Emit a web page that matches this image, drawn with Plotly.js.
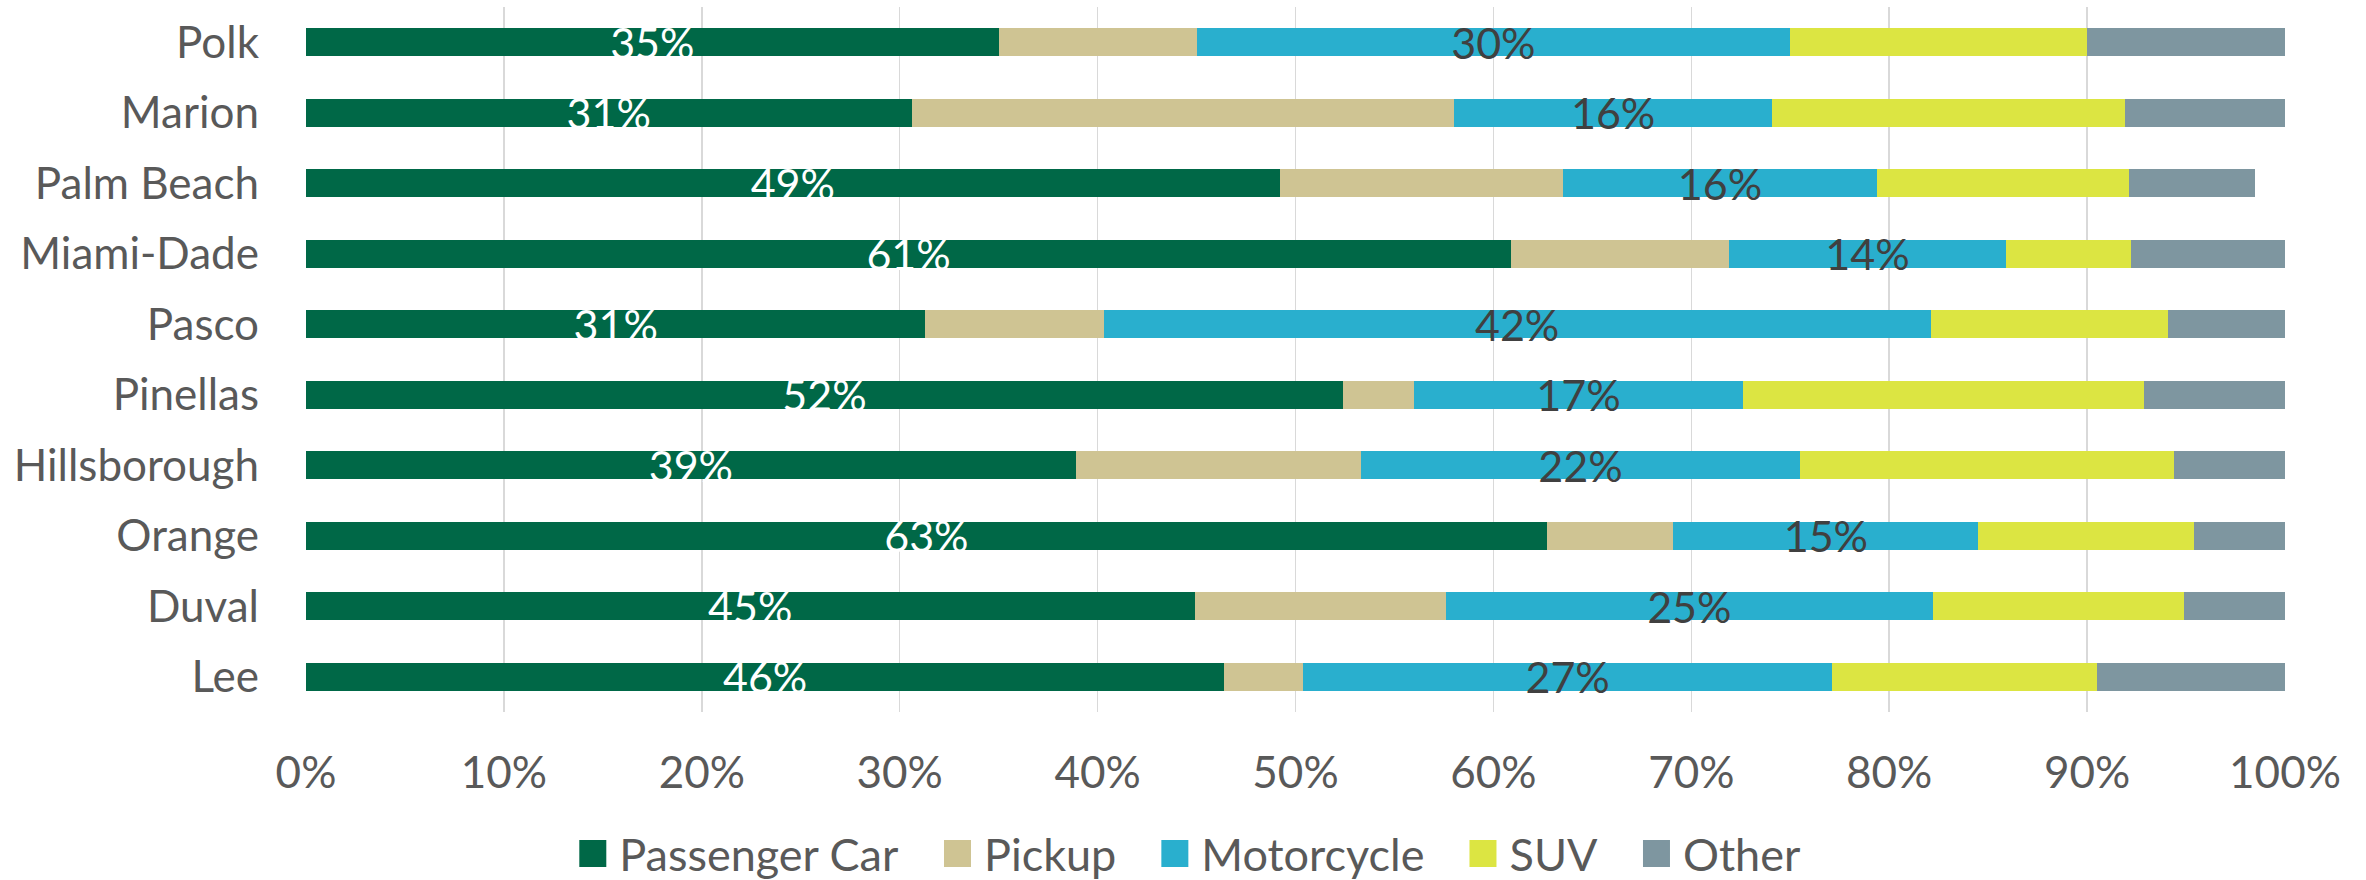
<!DOCTYPE html>
<html>
<head>
<meta charset="utf-8">
<script src="https://cdn.plot.ly/plotly-3.0.1.min.js"></script>
<style>
  html, body { margin: 0; padding: 0; background: #ffffff; }
  #chart { width: 2366px; height: 880px; }
</style>
</head>
<body>
<div id="chart"></div>
<script>
// Counties, top to bottom as shown
const counties = ["Polk", "Marion", "Palm Beach", "Miami-Dade", "Pasco",
                  "Pinellas", "Hillsborough", "Orange", "Duval", "Lee"];

// Share of each vehicle type (%)
const passengerCar = [35.0, 30.6, 49.2, 60.9, 31.3, 52.4, 38.9, 62.7, 44.9, 46.4];
const pickup       = [10.0, 27.4, 14.3, 11.0,  9.0,  3.6, 14.4,  6.4, 12.7,  4.0];
const motorcycle   = [30.0, 16.1, 15.9, 14.0, 41.8, 16.6, 22.2, 15.4, 24.6, 26.7];
const suv          = [15.0, 17.8, 12.7,  6.3, 12.0, 20.3, 18.9, 10.9, 12.7, 13.4];
const other        = [10.0,  8.1,  6.4,  7.8,  6.0,  7.1,  5.6,  4.6,  5.1,  9.5];

const xTickVals = [0, 10, 20, 30, 40, 50, 60, 70, 80, 90, 100];
const xTickText = ["0%", "10%", "20%", "30%", "40%", "50%", "60%", "70%", "80%", "90%", "100%"];

const FONT = "Lato, 'Open Sans', sans-serif";
const pct = arr => arr.map(v => Math.round(v) + "%");

const traces = [
  { name: "Passenger Car", x: passengerCar, color: "#006847", text: pct(passengerCar), tc: "#ffffff" },
  { name: "Pickup",        x: pickup,       color: "#CFC493" },
  { name: "Motorcycle",    x: motorcycle,   color: "#29AFCE", text: pct(motorcycle), tc: "#404040" },
  { name: "SUV",           x: suv,          color: "#DCE542" },
  { name: "Other",         x: other,        color: "#7E96A0" }
].map(d => {
  const t = {
    type: "bar",
    orientation: "h",
    name: d.name,
    y: counties,
    x: d.x,
    marker: { color: d.color, line: { width: 0 } },
    hovertemplate: "%{y}: %{x:.1f}%<extra>" + d.name + "</extra>"
  };
  if (d.text) {
    t.text = d.text;
    t.texttemplate = "%{text}";
    t.textposition = "inside";
    t.insidetextanchor = "middle";
    t.textangle = 0;
    t.constraintext = "none";
    t.textfont = { family: FONT, size: 43, color: d.tc };
  } else {
    t.textposition = "none";
  }
  return t;
});

const layout = {
  width: 2366,
  height: 880,
  barmode: "stack",
  bargap: 0.6,
  paper_bgcolor: "#ffffff",
  plot_bgcolor: "#ffffff",
  margin: { l: 306, r: 81, t: 7, b: 168, pad: 0, autoexpand: false },
  font: { family: FONT, color: "#595959", size: 44 },
  xaxis: {
    range: [0, 100],
    tickvals: xTickVals,
    ticktext: xTickText,
    showgrid: true,
    gridcolor: "#d9d9d9",
    gridwidth: 1.5,
    zeroline: false,
    showline: false,
    ticks: "",
    ticklabelstandoff: 31,
    automargin: false,
    tickfont: { family: FONT, size: 44, color: "#595959" },
    fixedrange: true
  },
  yaxis: {
    type: "category",
    autorange: "reversed",
    showgrid: false,
    zeroline: false,
    showline: false,
    ticks: "",
    ticklabelstandoff: 46,
    automargin: false,
    tickfont: { family: FONT, size: 44, color: "#595959" },
    fixedrange: true
  },
  showlegend: true,
  legend: {
    orientation: "h",
    x: 0.438,
    xanchor: "center",
    y: -0.201,
    yanchor: "middle",
    itemwidth: 70,
    font: { family: FONT, size: 45, color: "#595959" },
    traceorder: "normal",
    bgcolor: "rgba(0,0,0,0)"
  }
};

Plotly.newPlot("chart", traces, layout, { displayModeBar: false, staticPlot: true }).then(gd => {
  // square legend keys, 27px wide, sitting 13px before the entry text
  gd.querySelectorAll(".legend .legendpoints path").forEach(p => {
    p.setAttribute("d", "M27,13.5H0V-13.5H27Z");
  });
});
</script>
</body>
</html>
